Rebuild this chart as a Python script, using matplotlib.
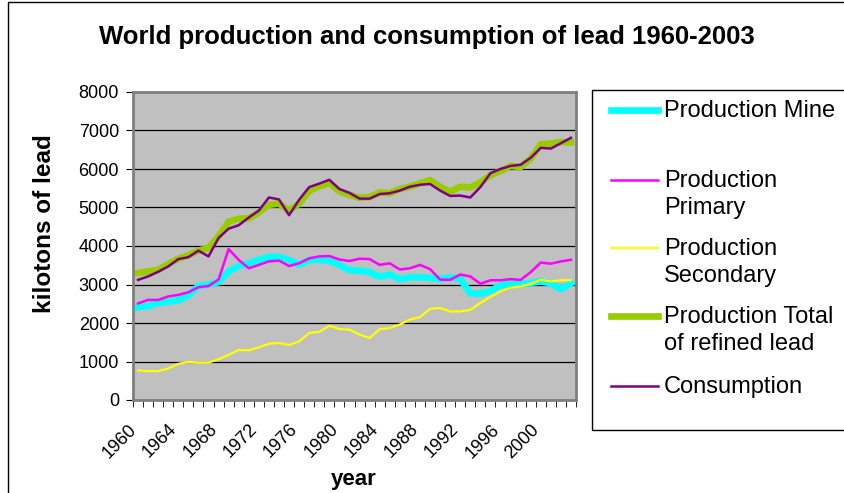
import numpy as np
import matplotlib
matplotlib.use('Agg')
import matplotlib.pyplot as plt
from matplotlib.lines import Line2D
from matplotlib.patches import Rectangle
from matplotlib.transforms import ScaledTranslation

plt.rcParams['font.family'] = ['Liberation Sans', 'DejaVu Sans']

years = list(range(1960, 2004))
mine = [2410, 2440, 2520, 2550, 2590, 2720, 2960, 3000, 3060, 3340,
        3480, 3550, 3640, 3720, 3720, 3640, 3510, 3640, 3640, 3620,
        3510, 3370, 3360, 3320, 3200, 3260, 3140, 3190, 3190, 3170,
        3150, 3180, 3150, 2770, 2760, 2830, 2980, 3010, 3010, 3040,
        3080, 3030, 2880, 3030]
primary = [2510, 2600, 2600, 2690, 2730, 2800, 2930, 2960, 3130, 3920,
           3640, 3420, 3510, 3600, 3620, 3480, 3550, 3680, 3730, 3740,
           3650, 3610, 3670, 3660, 3510, 3550, 3390, 3420, 3510, 3400,
           3130, 3120, 3260, 3210, 3020, 3110, 3110, 3140, 3120, 3320,
           3570, 3540, 3600, 3640]
secondary = [770, 750, 750, 820, 940, 990, 970, 970, 1060, 1170,
             1300, 1290, 1370, 1460, 1480, 1430, 1520, 1740, 1770, 1930,
             1840, 1830, 1700, 1610, 1840, 1870, 1960, 2090, 2150, 2370,
             2390, 2300, 2300, 2340, 2520, 2680, 2820, 2920, 2950, 3020,
             3120, 3080, 3110, 3110]
total = [3300, 3340, 3380, 3530, 3670, 3760, 3880, 3950, 4250, 4630,
         4710, 4720, 4870, 5070, 5100, 4920, 5100, 5430, 5550, 5640,
         5420, 5330, 5250, 5270, 5390, 5370, 5480, 5540, 5630, 5710,
         5540, 5410, 5540, 5520, 5650, 5840, 5950, 6080, 6050, 6270,
         6640, 6660, 6700, 6690]
consumption = [3120, 3210, 3330, 3470, 3660, 3710, 3880, 3730, 4210, 4450,
               4540, 4740, 4920, 5260, 5210, 4800, 5200, 5530, 5620, 5720,
               5480, 5380, 5230, 5230, 5350, 5370, 5440, 5540, 5590, 5610,
               5440, 5300, 5310, 5260, 5530, 5890, 6000, 6080, 6110, 6290,
               6550, 6530, 6670, 6810]
tick_years = list(range(1960, 2001, 4))
y_ticks = list(range(0, 8001, 1000))

series = [
    ('Production Mine', mine, '#00FFFF', 4.8),
    ('Production\nPrimary', primary, '#FF00FF', 1.8),
    ('Production\nSecondary', secondary, '#FFFF00', 1.6),
    ('Production Total\nof refined lead', total, '#99CC00', 4.8),
    ('Consumption', consumption, '#800080', 1.8),
]

W, H = 844, 493

def fx(px):
    return px / W

def fy(py):
    return 1 - py / H

fig = plt.figure(figsize=(W / 100, H / 100), dpi=100)
fig.patch.set_facecolor('white')
# chart area border
fig.patches.append(Rectangle((fx(8), fy(520)), fx(900) - fx(8), fy(2) - fy(520),
                             transform=fig.transFigure, fill=False,
                             ec='black', lw=1))

ax = fig.add_axes([fx(133), fy(400), fx(576) - fx(133), fy(92) - fy(400)])
ax.set_facecolor('#C0C0C0')

x = np.arange(len(years))
for label, vals, col, lw in series:
    ax.plot(x, vals, color=col, lw=lw, solid_joinstyle='round')

ax.set_xlim(-0.5, len(years) - 0.5)
ax.set_ylim(0, 8000)
ax.set_yticks(y_ticks)
ax.yaxis.grid(True, color='black', lw=0.9)
ax.set_axisbelow(True)
for s in ax.spines.values():
    s.set_color('#808080')
    s.set_linewidth(2)

ax.set_xticks(np.arange(0, 41, 4))
ax.set_xticklabels([str(y) for y in tick_years], rotation=45, ha='right',
                   va='top', rotation_mode='anchor', fontsize=13)
ax.set_xticks(np.arange(-0.5, len(years), 1), minor=True)
ax.tick_params(axis='x', which='major', length=0, pad=15)
ax.tick_params(axis='x', which='minor', length=5, color='black', direction='out')
ax.tick_params(axis='y', length=5, color='black', labelsize=13, pad=5)
shift = ScaledTranslation(-10 / 100, 0, fig.dpi_scale_trans)
for lab in ax.get_xticklabels():
    lab.set_transform(lab.get_transform() + shift)

fig.text(fx(427), fy(37), 'World production and consumption of lead 1960-2003',
         ha='center', va='center', fontsize=18.5, fontweight='bold')
fig.text(fx(45), fy(224), 'kilotons of lead', rotation=90, ha='center',
         va='center', fontsize=17.5, fontweight='bold')
fig.text(fx(354), fy(479), 'year', ha='center', va='center',
         fontsize=16, fontweight='bold')

# legend box drawn by hand to match the layout
fig.patches.append(Rectangle((fx(592), fy(430)), fx(900) - fx(592), fy(90) - fy(430),
                             transform=fig.transFigure, fc='white',
                             ec='black', lw=1))
leg_y = [110, 180, 248, 316, 386]
for (label, vals, col, lw), ly in zip(series, leg_y):
    fig.lines.append(Line2D([fx(611), fx(658)], [fy(ly), fy(ly)],
                            transform=fig.transFigure, color=col, lw=lw))
    fig.text(fx(664), fy(ly - 10), label, ha='left', va='top',
             fontsize=17, linespacing=1.28)

fig.savefig('out.png', dpi=100)
